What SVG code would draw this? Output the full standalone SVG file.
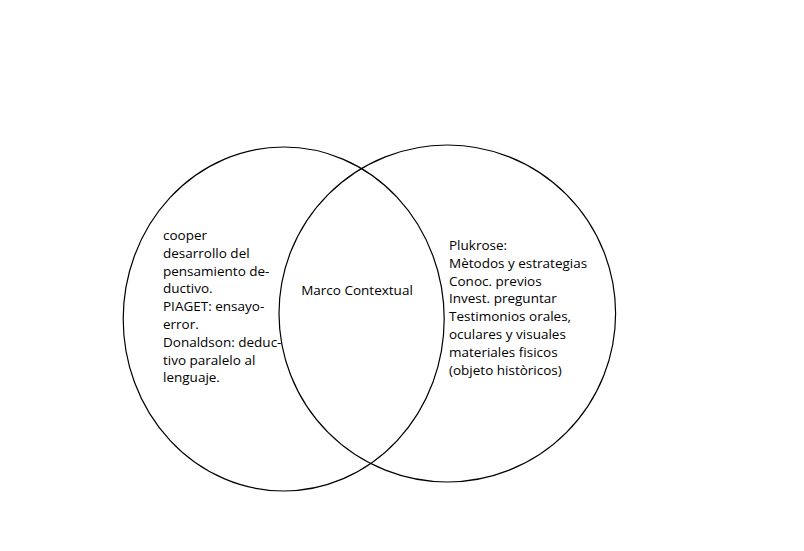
<svg xmlns="http://www.w3.org/2000/svg" width="804" height="551" viewBox="0 0 804 551">
<style>
.ring{fill:none;stroke:#000;stroke-width:1.2}
.t{font-family:"Open Sans","Noto Sans","DejaVu Sans",sans-serif;font-size:13.5px;fill:#000}
</style>
<rect width="804" height="551" fill="#fff"/>
<g id="connectors"></g>
<g id="left-set">
<ellipse class="ring" cx="283.7" cy="319" rx="160.5" ry="172"/>
<text class="t" x="163" y="240">
<tspan x="163" y="240">cooper</tspan>
<tspan x="163" y="257.8">desarrollo del</tspan>
<tspan x="163" y="275.6">pensamiento de-</tspan>
<tspan x="163" y="293.4">ductivo.</tspan>
<tspan x="163" y="311.2">PIAGET: ensayo-</tspan>
<tspan x="163" y="329">error.</tspan>
<tspan x="163" y="346.8">Donaldson: deduc-</tspan>
<tspan x="163" y="364.6">tivo paralelo al</tspan>
<tspan x="163" y="382.4">lenguaje.</tspan>
</text>
</g>
<g id="right-set">
<ellipse class="ring" cx="447.3" cy="313.5" rx="168.3" ry="168.5"/>
<text class="t" x="449" y="250">
<tspan x="449" y="250">Plukrose:</tspan>
<tspan x="449" y="267.8">Mètodos y estrategias</tspan>
<tspan x="449" y="285.6">Conoc. previos</tspan>
<tspan x="449" y="303.4">Invest. preguntar</tspan>
<tspan x="449" y="321.2">Testimonios orales,</tspan>
<tspan x="449" y="339">oculares y visuales</tspan>
<tspan x="449" y="356.8">materiales fisicos</tspan>
<tspan x="449" y="374.6">(objeto històricos)</tspan>
</text>
</g>
<g id="intersection">
<text class="t" x="357" y="295" text-anchor="middle">Marco Contextual</text>
</g>
</svg>
